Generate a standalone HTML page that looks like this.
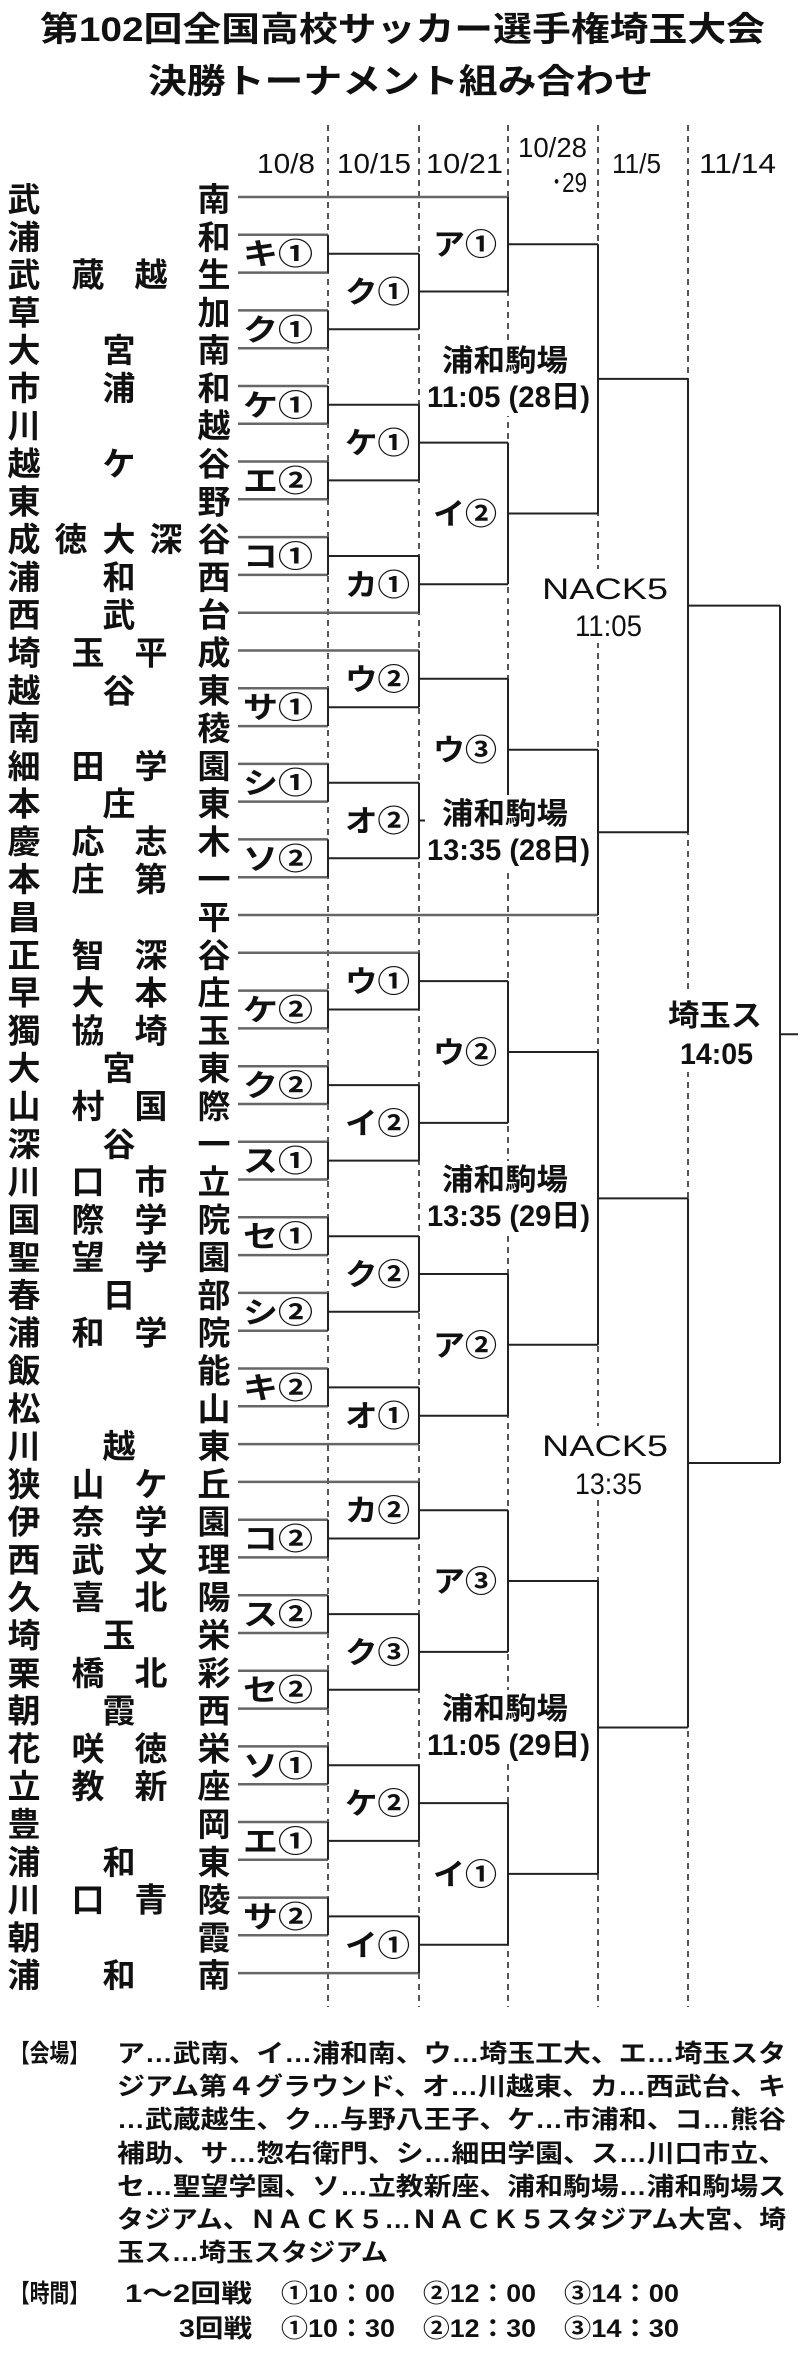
<!DOCTYPE html>
<html><head><meta charset="utf-8"><style>
html,body{margin:0;padding:0;background:#fff;}
svg{display:block;}
text{font-family:"Liberation Sans","Noto Sans CJK JP",sans-serif;fill:#111;}
.t{font-size:33px;font-weight:bold;text-anchor:middle;}
.l{font-size:30px;font-weight:bold;}
.h{font-size:28px;}
.g{font-size:25px;font-weight:bold;}
</style></head><body>
<svg width="800" height="2355" viewBox="0 0 800 2355" xmlns="http://www.w3.org/2000/svg">
<rect width="800" height="2355" fill="#fff"/>
<text x="40" y="41" style="font-size:34px;font-weight:bold" textLength="725" lengthAdjust="spacingAndGlyphs">第102回全国高校サッカー選手権埼玉大会</text>
<text x="148" y="93" style="font-size:34px;font-weight:bold" textLength="505" lengthAdjust="spacingAndGlyphs">決勝トーナメント組み合わせ</text>
<g class="h">
<text x="257" y="173" textLength="58" lengthAdjust="spacingAndGlyphs">10/8</text>
<text x="337" y="173" textLength="74" lengthAdjust="spacingAndGlyphs">10/15</text>
<text x="426" y="173" textLength="77" lengthAdjust="spacingAndGlyphs">10/21</text>
<text x="518" y="157" textLength="69" lengthAdjust="spacingAndGlyphs">10/28</text>
<text x="551" y="192" textLength="36" lengthAdjust="spacingAndGlyphs">･29</text>
<text x="612" y="173" textLength="49" lengthAdjust="spacingAndGlyphs">11/5</text>
<text x="699" y="173" textLength="77" lengthAdjust="spacingAndGlyphs">11/14</text>
</g>
<g stroke="#555" stroke-width="2" stroke-dasharray="6 5">
<line x1="328" y1="125" x2="328" y2="2007"/>
<line x1="419" y1="125" x2="419" y2="2007"/>
<line x1="508" y1="125" x2="508" y2="2007"/>
<line x1="598" y1="125" x2="598" y2="2007"/>
<line x1="688" y1="125" x2="688" y2="2007"/>
</g>
<g stroke="#666" stroke-width="2.5" fill="none">
<path d="M238 197H508 M238 234.8H328 M238 272.6H328 M238 310.4H328 M238 348.2H328 M238 386H328 M238 423.7H328 M238 461.5H328 M238 499.3H328 M238 537.1H328 M238 574.9H328 M238 612.7H419 M238 650.5H419 M238 688.3H328 M238 726.1H328 M238 763.9H328 M238 801.6H328 M238 839.4H328 M238 877.2H328 M238 915H598 M238 952.8H419 M238 990.6H328 M238 1028.4H328 M238 1066.2H328 M238 1104H328 M238 1141.8H328 M238 1179.5H328 M238 1217.3H328 M238 1255.1H328 M238 1292.9H328 M238 1330.7H328 M238 1368.5H328 M238 1406.3H328 M238 1444.1H419 M238 1481.9H419 M238 1519.7H328 M238 1557.4H328 M238 1595.2H328 M238 1633H328 M238 1670.8H328 M238 1708.6H328 M238 1746.4H328 M238 1784.2H328 M238 1822H328 M238 1859.8H328 M238 1897.6H328 M238 1935.3H328 M238 1973.1H419"/>
</g>
<g stroke="#222" stroke-width="2" fill="none">
<path d="M328 234.8V272.6 M328 310.4V348.2 M328 386V423.7 M328 461.5V499.3 M328 537.1V574.9 M328 688.3V726.1 M328 763.9V801.6 M328 839.4V877.2 M328 990.6V1028.4 M328 1066.2V1104 M328 1141.8V1179.5 M328 1217.3V1255.1 M328 1292.9V1330.7 M328 1368.5V1406.3 M328 1519.7V1557.4 M328 1595.2V1633 M328 1670.8V1708.6 M328 1746.4V1784.2 M328 1822V1859.8 M328 1897.6V1935.3"/>
<path d="M328 253.7H419 M328 329.3H419 M328 404.8H419 M328 480.4H419 M328 556H419 M328 707.2H419 M328 782.7H419 M328 858.3H419 M328 1009.5H419 M328 1085.1H419 M328 1160.6H419 M328 1236.2H419 M328 1311.8H419 M328 1387.4H419 M328 1538.5H419 M328 1614.1H419 M328 1689.7H419 M328 1765.3H419 M328 1840.9H419 M328 1916.4H419"/>
<path d="M419 253.7V329.3 M419 404.8V480.4 M419 556V612.7 M419 650.5V707.2 M419 782.7V858.3 M419 952.8V1009.5 M419 1085.1V1160.6 M419 1236.2V1311.8 M419 1387.4V1444.1 M419 1481.9V1538.5 M419 1614.1V1689.7 M419 1765.3V1840.9 M419 1916.4V1973.1"/>
<path d="M419 291.5H508 M419 442.6H508 M419 584.3H508 M419 678.8H508 M419 820.5H508 M419 981.1H508 M419 1122.9H508 M419 1274H508 M419 1415.7H508 M419 1510.2H508 M419 1651.9H508 M419 1803.1H508 M419 1944.8H508"/>
<path d="M508 197V291.5 M508 442.6V584.3 M508 678.8V820.5 M508 981.1V1122.9 M508 1274V1415.7 M508 1510.2V1651.9 M508 1803.1V1944.8"/>
<path d="M508 244.2H598 M508 513.5H598 M508 749.7H598 M508 1052H598 M508 1344.8H598 M508 1581H598 M508 1873.9H598"/>
<path d="M598 244.2V513.5 M598 749.7V915 M598 1052V1344.8 M598 1581V1873.9"/>
<path d="M598 378.9H688 M598 832.3H688 M598 1198.4H688 M598 1727.5H688"/>
<path d="M688 378.9V832.3 M688 1198.4V1727.5 M688 605.6H780 M688 1463H780"/>
<path d="M780 605.6V1463 M780 1034.3H798"/>
</g>
<g class="t">
<text x="24 214" y="211">武南</text>
<text x="24 214" y="248.8">浦和</text>
<text x="24 88 151 214" y="286.6">武蔵越生</text>
<text x="24 214" y="324.4">草加</text>
<text x="24 119 214" y="362.2">大宮南</text>
<text x="24 119 214" y="400">市浦和</text>
<text x="24 214" y="437.7">川越</text>
<text x="24 119 214" y="475.5">越ケ谷</text>
<text x="24 214" y="513.3">東野</text>
<text x="24 71 119 166 214" y="551.1">成徳大深谷</text>
<text x="24 119 214" y="588.9">浦和西</text>
<text x="24 119 214" y="626.7">西武台</text>
<text x="24 88 151 214" y="664.5">埼玉平成</text>
<text x="24 119 214" y="702.3">越谷東</text>
<text x="24 214" y="740.1">南稜</text>
<text x="24 88 151 214" y="777.9">細田学園</text>
<text x="24 119 214" y="815.6">本庄東</text>
<text x="24 88 151 214" y="853.4">慶応志木</text>
<text x="24 88 151 214" y="891.2">本庄第一</text>
<text x="24 214" y="929">昌平</text>
<text x="24 88 151 214" y="966.8">正智深谷</text>
<text x="24 88 151 214" y="1004.6">早大本庄</text>
<text x="24 88 151 214" y="1042.4">獨協埼玉</text>
<text x="24 119 214" y="1080.2">大宮東</text>
<text x="24 88 151 214" y="1118">山村国際</text>
<text x="24 119 214" y="1155.8">深谷一</text>
<text x="24 88 151 214" y="1193.5">川口市立</text>
<text x="24 88 151 214" y="1231.3">国際学院</text>
<text x="24 88 151 214" y="1269.1">聖望学園</text>
<text x="24 119 214" y="1306.9">春日部</text>
<text x="24 88 151 214" y="1344.7">浦和学院</text>
<text x="24 214" y="1382.5">飯能</text>
<text x="24 214" y="1420.3">松山</text>
<text x="24 119 214" y="1458.1">川越東</text>
<text x="24 88 151 214" y="1495.9">狭山ケ丘</text>
<text x="24 88 151 214" y="1533.7">伊奈学園</text>
<text x="24 88 151 214" y="1571.4">西武文理</text>
<text x="24 88 151 214" y="1609.2">久喜北陽</text>
<text x="24 119 214" y="1647">埼玉栄</text>
<text x="24 88 151 214" y="1684.8">栗橋北彩</text>
<text x="24 119 214" y="1722.6">朝霞西</text>
<text x="24 88 151 214" y="1760.4">花咲徳栄</text>
<text x="24 88 151 214" y="1798.2">立教新座</text>
<text x="24 214" y="1836">豊岡</text>
<text x="24 119 214" y="1873.8">浦和東</text>
<text x="24 88 151 214" y="1911.6">川口青陵</text>
<text x="24 214" y="1949.3">朝霞</text>
<text x="24 119 214" y="1987.1">浦和南</text>
</g>
<g class="l">
<text x="243" y="264.7" textLength="70" lengthAdjust="spacingAndGlyphs">キ①</text>
<text x="243" y="340.3" textLength="70" lengthAdjust="spacingAndGlyphs">ク①</text>
<text x="243" y="415.8" textLength="70" lengthAdjust="spacingAndGlyphs">ケ①</text>
<text x="243" y="491.4" textLength="70" lengthAdjust="spacingAndGlyphs">エ②</text>
<text x="243" y="567" textLength="70" lengthAdjust="spacingAndGlyphs">コ①</text>
<text x="243" y="718.2" textLength="70" lengthAdjust="spacingAndGlyphs">サ①</text>
<text x="243" y="793.7" textLength="70" lengthAdjust="spacingAndGlyphs">シ①</text>
<text x="243" y="869.3" textLength="70" lengthAdjust="spacingAndGlyphs">ソ②</text>
<text x="243" y="1020.5" textLength="70" lengthAdjust="spacingAndGlyphs">ケ②</text>
<text x="243" y="1096.1" textLength="70" lengthAdjust="spacingAndGlyphs">ク②</text>
<text x="243" y="1171.6" textLength="70" lengthAdjust="spacingAndGlyphs">ス①</text>
<text x="243" y="1247.2" textLength="70" lengthAdjust="spacingAndGlyphs">セ①</text>
<text x="243" y="1322.8" textLength="70" lengthAdjust="spacingAndGlyphs">シ②</text>
<text x="243" y="1398.4" textLength="70" lengthAdjust="spacingAndGlyphs">キ②</text>
<text x="243" y="1549.5" textLength="70" lengthAdjust="spacingAndGlyphs">コ②</text>
<text x="243" y="1625.1" textLength="70" lengthAdjust="spacingAndGlyphs">ス②</text>
<text x="243" y="1700.7" textLength="70" lengthAdjust="spacingAndGlyphs">セ②</text>
<text x="243" y="1776.3" textLength="70" lengthAdjust="spacingAndGlyphs">ソ①</text>
<text x="243" y="1851.9" textLength="70" lengthAdjust="spacingAndGlyphs">エ①</text>
<text x="243" y="1927.4" textLength="70" lengthAdjust="spacingAndGlyphs">サ②</text>
<text x="345" y="302.5" textLength="65" lengthAdjust="spacingAndGlyphs">ク①</text>
<text x="345" y="453.6" textLength="65" lengthAdjust="spacingAndGlyphs">ケ①</text>
<text x="345" y="595.3" textLength="65" lengthAdjust="spacingAndGlyphs">カ①</text>
<text x="345" y="689.8" textLength="65" lengthAdjust="spacingAndGlyphs">ウ②</text>
<text x="345" y="831.5" textLength="65" lengthAdjust="spacingAndGlyphs">オ②</text>
<text x="345" y="992.1" textLength="65" lengthAdjust="spacingAndGlyphs">ウ①</text>
<text x="345" y="1133.9" textLength="65" lengthAdjust="spacingAndGlyphs">イ②</text>
<text x="345" y="1285" textLength="65" lengthAdjust="spacingAndGlyphs">ク②</text>
<text x="345" y="1426.7" textLength="65" lengthAdjust="spacingAndGlyphs">オ①</text>
<text x="345" y="1521.2" textLength="65" lengthAdjust="spacingAndGlyphs">カ②</text>
<text x="345" y="1662.9" textLength="65" lengthAdjust="spacingAndGlyphs">ク③</text>
<text x="345" y="1814.1" textLength="65" lengthAdjust="spacingAndGlyphs">ケ②</text>
<text x="345" y="1955.8" textLength="65" lengthAdjust="spacingAndGlyphs">イ①</text>
<text x="433" y="255.2" textLength="64" lengthAdjust="spacingAndGlyphs">ア①</text>
<text x="433" y="524.5" textLength="64" lengthAdjust="spacingAndGlyphs">イ②</text>
<text x="433" y="760.7" textLength="64" lengthAdjust="spacingAndGlyphs">ウ③</text>
<text x="433" y="1063" textLength="64" lengthAdjust="spacingAndGlyphs">ウ②</text>
<text x="433" y="1355.8" textLength="64" lengthAdjust="spacingAndGlyphs">ア②</text>
<text x="433" y="1592" textLength="64" lengthAdjust="spacingAndGlyphs">ア③</text>
<text x="433" y="1884.9" textLength="64" lengthAdjust="spacingAndGlyphs">イ①</text>
</g>
<g fill="#fff">
<rect x="425" y="342" width="166" height="74"/>
<rect x="425" y="795" width="166" height="74"/>
<rect x="425" y="1161" width="166" height="74"/>
<rect x="425" y="1690" width="166" height="74"/>
<rect x="538" y="569" width="134" height="74"/>
<rect x="538" y="1426" width="134" height="74"/>
<rect x="664" y="994" width="104" height="78"/>
</g>
<g class="l">
<text x="442" y="371" textLength="126" lengthAdjust="spacingAndGlyphs">浦和駒場</text>
<text x="427" y="407" textLength="163" lengthAdjust="spacingAndGlyphs">11:05 (28日)</text>
<text x="442" y="824" textLength="126" lengthAdjust="spacingAndGlyphs">浦和駒場</text>
<text x="427" y="860" textLength="163" lengthAdjust="spacingAndGlyphs">13:35 (28日)</text>
<text x="442" y="1190" textLength="126" lengthAdjust="spacingAndGlyphs">浦和駒場</text>
<text x="427" y="1226" textLength="163" lengthAdjust="spacingAndGlyphs">13:35 (29日)</text>
<text x="442" y="1719" textLength="126" lengthAdjust="spacingAndGlyphs">浦和駒場</text>
<text x="427" y="1755" textLength="163" lengthAdjust="spacingAndGlyphs">11:05 (29日)</text>
<text x="542" y="599" textLength="126" lengthAdjust="spacingAndGlyphs" style="font-weight:normal">NACK5</text>
<text x="575" y="636" textLength="67" lengthAdjust="spacingAndGlyphs" style="font-weight:normal">11:05</text>
<text x="542" y="1456" textLength="126" lengthAdjust="spacingAndGlyphs" style="font-weight:normal">NACK5</text>
<text x="575" y="1494" textLength="67" lengthAdjust="spacingAndGlyphs" style="font-weight:normal">13:35</text>
<text x="668" y="1026" textLength="94" lengthAdjust="spacingAndGlyphs">埼玉ス</text>
<text x="680" y="1064" textLength="73" lengthAdjust="spacingAndGlyphs">14:05</text>
</g>
<g class="g">
<text x="10" y="2062" textLength="79" lengthAdjust="spacingAndGlyphs">【会場】</text>
<text x="117" y="2062" textLength="669" lengthAdjust="spacingAndGlyphs">ア…武南、イ…浦和南、ウ…埼玉工大、エ…埼玉スタ</text>
<text x="117" y="2095" textLength="669" lengthAdjust="spacingAndGlyphs">ジアム第４グラウンド、オ…川越東、カ…西武台、キ</text>
<text x="117" y="2128" textLength="669" lengthAdjust="spacingAndGlyphs">…武蔵越生、ク…与野八王子、ケ…市浦和、コ…熊谷</text>
<text x="117" y="2162" textLength="669" lengthAdjust="spacingAndGlyphs">補助、サ…惣右衛門、シ…細田学園、ス…川口市立、</text>
<text x="117" y="2195" textLength="669" lengthAdjust="spacingAndGlyphs">セ…聖望学園、ソ…立教新座、浦和駒場…浦和駒場ス</text>
<text x="117" y="2228" textLength="669" lengthAdjust="spacingAndGlyphs">タジアム、ＮＡＣＫ５…ＮＡＣＫ５スタジアム大宮、埼</text>
<text x="117" y="2261" textLength="271" lengthAdjust="spacingAndGlyphs">玉ス…埼玉スタジアム</text>
<text x="10" y="2302" textLength="79" lengthAdjust="spacingAndGlyphs">【時間】</text>
<text x="125" y="2302" textLength="127" lengthAdjust="spacingAndGlyphs">1～2回戦</text>
<text x="281" y="2302" textLength="114" lengthAdjust="spacingAndGlyphs">①10：00</text>
<text x="423" y="2302" textLength="113" lengthAdjust="spacingAndGlyphs">②12：00</text>
<text x="564" y="2302" textLength="115" lengthAdjust="spacingAndGlyphs">③14：00</text>
<text x="179" y="2337" textLength="73" lengthAdjust="spacingAndGlyphs">3回戦</text>
<text x="281" y="2337" textLength="114" lengthAdjust="spacingAndGlyphs">①10：30</text>
<text x="423" y="2337" textLength="113" lengthAdjust="spacingAndGlyphs">②12：30</text>
<text x="564" y="2337" textLength="115" lengthAdjust="spacingAndGlyphs">③14：30</text>
</g>
</svg>
</body></html>
